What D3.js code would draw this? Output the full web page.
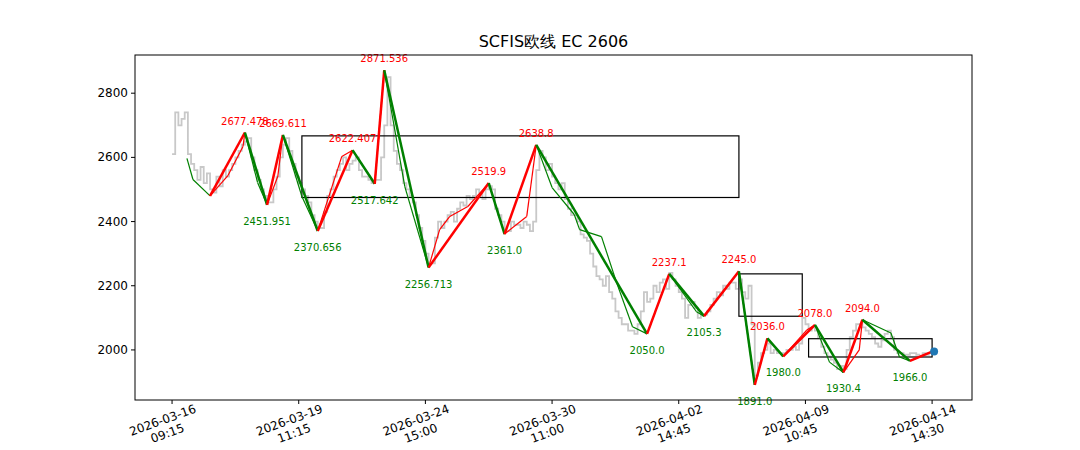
<!DOCTYPE html>
<html><head><meta charset="utf-8">
<script src="https://cdn.jsdelivr.net/npm/d3@7"></script>
<style>body{margin:0;background:#fff}text{font-family:"DejaVu Sans",sans-serif}</style>
</head><body><svg id="c" width="1080" height="450"></svg>
<script>
const title = "SCFIS欧线 EC 2606";
const tickIdx = [0,40,80,120,160,200,240];
const tickLabels = [["2026-03-16","09:15"],["2026-03-19","11:15"],["2026-03-24","15:00"],["2026-03-30","11:00"],["2026-04-02","14:45"],["2026-04-09","10:45"],["2026-04-14","14:30"]];
const yTicks = [2000,2200,2400,2600,2800];
const priceVals = [2610,2740,2700,2720,2740,2610,2580,2560,2530,2570,2520,2550,2500,2490,2540,2510,2560,2540,2560,2580,2600,2620,2640,2650,2660,2600,2560,2530,2500,2480,2460,2460,2500,2540,2600,2640,2660,2620,2580,2540,2520,2500,2480,2460,2420,2400,2380,2380,2430,2480,2500,2540,2560,2580,2600,2560,2580,2590,2600,2560,2540,2540,2530,2520,2530,2530,2600,2700,2850,2700,2620,2580,2560,2520,2500,2480,2460,2420,2380,2340,2300,2270,2270,2350,2400,2380,2400,2420,2430,2400,2440,2460,2450,2480,2470,2480,2500,2490,2470,2500,2510,2500,2440,2420,2400,2370,2370,2400,2390,2390,2380,2400,2390,2370,2400,2560,2620,2600,2560,2580,2540,2520,2500,2520,2470,2440,2420,2420,2400,2360,2350,2340,2300,2260,2230,2220,2200,2230,2180,2160,2120,2100,2080,2080,2060,2060,2050,2080,2120,2180,2150,2160,2200,2180,2210,2220,2190,2240,2220,2200,2180,2160,2100,2140,2150,2130,2100,2110,2110,2120,2140,2160,2180,2170,2200,2190,2210,2210,2190,2220,2180,2160,2200,2080,1920,1960,1990,2000,2020,1990,2000,1990,1990,1990,2000,2000,2010,2000,2020,2100,2080,2060,2070,2060,2040,2010,1990,1980,1970,1960,1940,1950,1940,2000,2040,2060,2080,2080,2070,2060,2050,2040,2020,2010,2030,2050,2060,2040,2000,1990,1990,1985,1985,1990,1990,1985,1980,1990,1985,1990,1995];
const biIdx = [12,23,30,35,46,57,64,67,81,100,105,115,150,157,168,179,184,188,193,203,212,218,233,240];
const biVals = [2480,2677.478,2451.951,2669.611,2370.656,2622.407,2517.642,2871.536,2256.713,2519.9,2361.0,2638.8,2050.0,2237.1,2105.3,2245.0,1891.0,2036.0,1980.0,2078.0,1930.4,2094.0,1966.0,1995];
const biLabels = [null,"2677.478","2451.951","2669.611","2370.656","2622.407","2517.642","2871.536","2256.713","2519.9","2361.0","2638.8","2050.0","2237.1","2105.3","2245.0","1891.0","2036.0","1980.0","2078.0","1930.4","2094.0","1966.0",null];
const subIdx = [4.7,6.6,12,17.7,22.4,23,27,30,33.4,35,41,46,53.6,57,64,67,73.5,81,84.5,87.7,93.4,100,105,112,115,120,127,128.7,135.6,140.4,145.4,150,157,165.6,168,179,184,188,193,200.4,203,207.6,212,217,218,227,229.7,233,240];
const subVals = [2597,2531,2480,2544,2634,2677,2522,2452,2541,2670,2478,2371,2603,2622,2518,2872,2509,2257,2375,2416,2447,2520,2361,2416,2639,2506,2422,2375,2353,2209,2072,2050,2237,2119,2105,2245,1891,2036,1980,2062,2078,1962,1930,2000,2094,2053,1978,1966,1995];
const boxX0 = [41,179,201], boxX1 = [179,199,240], boxY0 = [2475,2105,1978], boxY1 = [2667,2237,2035];

const svg = d3.select("#c");
const L=135,R=972,T=55,B=400;
const x = d3.scaleLinear().domain([-11.7,252.6]).range([L,R]);
const y = d3.scaleLinear().domain([1844,2919]).range([B,T]);
svg.append("text").attr("x",(L+R)/2).attr("y",47).attr("text-anchor","middle").attr("font-size",16).text(title);
svg.append("path").datum(priceVals).attr("fill","none").attr("stroke","#c8c8c8").attr("stroke-width",1.8)
  .attr("d",d3.line().x((d,i)=>x(i)).y(d=>y(d)).curve(d3.curveStepAfter));
boxX0.forEach((v,i)=>svg.append("rect").attr("x",x(v)).attr("y",y(boxY1[i])).attr("width",x(boxX1[i])-x(v)).attr("height",y(boxY0[i])-y(boxY1[i])).attr("fill","none").attr("stroke","#000").attr("stroke-width",1.2));
function seg(idx,vals,w){
  for(let i=0;i<idx.length-1;i++){
    svg.append("line").attr("x1",x(idx[i])).attr("y1",y(vals[i])).attr("x2",x(idx[i+1])).attr("y2",y(vals[i+1]))
      .attr("stroke",vals[i+1]>vals[i]?"#ff0000":"#008000").attr("stroke-width",w);
  }
}
seg(subIdx,subVals,1.2);
seg(biIdx,biVals,2.5);
svg.append("circle").attr("cx",x(biIdx[biIdx.length-1])+2).attr("cy",y(biVals[biVals.length-1])).attr("r",4).attr("fill","#1f77b4");
biLabels.forEach((t,i)=>{ if(!t) return;
  const hi = biVals[i] > biVals[i-1];
  svg.append("text").attr("x",x(biIdx[i])).attr("y",hi?y(biVals[i])-8:y(biVals[i])+20).attr("text-anchor","middle")
    .attr("font-size",10).attr("fill",hi?"#ff0000":"#008000").text(t);
});
svg.append("rect").attr("x",L).attr("y",T).attr("width",R-L).attr("height",B-T).attr("fill","none").attr("stroke","#000");
yTicks.forEach(v=>{
  svg.append("line").attr("x1",L-4).attr("x2",L).attr("y1",y(v)).attr("y2",y(v)).attr("stroke","#000");
  svg.append("text").attr("x",L-7).attr("y",y(v)+4).attr("text-anchor","end").attr("font-size",12).text(v);
});
tickIdx.forEach((v,i)=>{
  svg.append("line").attr("x1",x(v)).attr("x2",x(v)).attr("y1",B).attr("y2",B+4).attr("stroke","#000");
  const g=svg.append("g").attr("transform",`translate(${x(v)-8},${B+24}) rotate(-20)`);
  g.append("text").attr("text-anchor","middle").attr("font-size",12).text(tickLabels[i][0]);
  g.append("text").attr("text-anchor","middle").attr("y",14).attr("font-size",12).text(tickLabels[i][1]);
});
</script></body></html>
